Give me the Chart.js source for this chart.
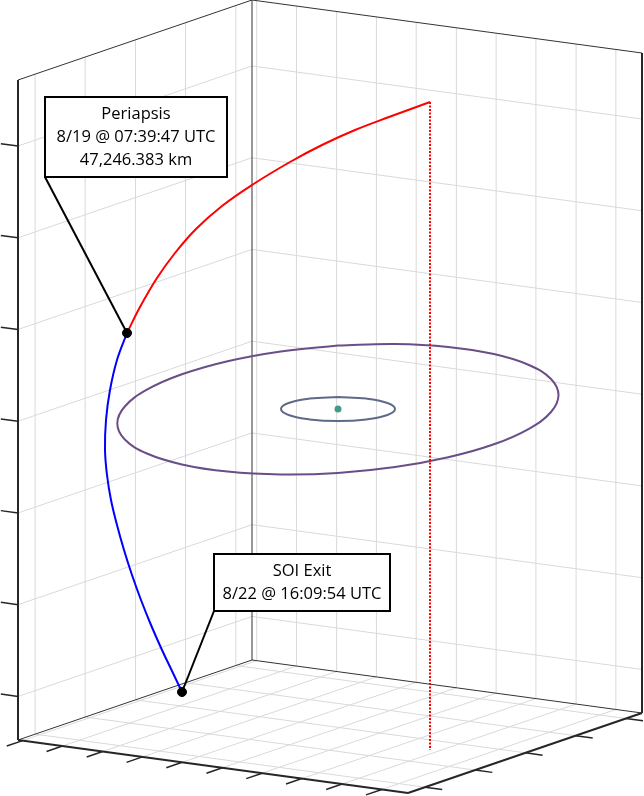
<!DOCTYPE html>
<html>
<head>
<meta charset="utf-8">
<title>SOI trajectory</title>
<script src="https://cdn.jsdelivr.net/npm/chart.js@4.4.1/dist/chart.umd.min.js"></script>
<style>
  html, body { margin: 0; padding: 0; background: #fff; }
  canvas { display: block; }
</style>
</head>
<body>
<canvas id="myChart" width="644" height="796"></canvas>
<script>
// main.js  -  3D box drawn as a projected 2D view (x right, y down)

// tick fractions along the three box directions
var depthTicks = [0.073, 0.287, 0.502, 0.716, 0.931];
var widthTicks = [0.012, 0.114, 0.217, 0.319, 0.421, 0.524, 0.626, 0.728, 0.831, 0.933];
var heightTicks = [0.066, 0.205, 0.344, 0.483, 0.622, 0.761, 0.900];

// trajectory
var approach = [[430, 102], [389, 117], [355, 130], [322, 145], [290, 162], [252, 185],
                [222, 206], [196, 229], [175, 253], [157, 278], [140, 307], [127, 333]];
var departure = [[127, 333], [117, 360], [110, 390], [106, 420], [105, 450], [107, 475],
                 [111, 500], [117, 525], [124, 550], [132, 575], [141, 600], [151, 625],
                 [162, 650], [172, 671], [182, 692]];
var entryDrop = [[430, 102], [430, 750]];
var outerOrbit = [[337.9, 345.5], [395.0, 344.0], [448.2, 346.9], [493.9, 354.1], [528.9, 365.0],
                  [551.0, 379.0], [558.5, 395.0], [551.0, 412.0], [528.9, 428.8], [493.9, 444.3],
                  [448.2, 457.3], [395.0, 467.1], [337.9, 473.0], [280.8, 474.5], [227.6, 471.6],
                  [181.9, 464.4], [146.9, 453.5], [124.8, 439.5], [117.3, 423.5], [124.8, 406.5],
                  [146.9, 389.7], [181.9, 374.3], [227.6, 361.2], [280.8, 351.4], [337.9, 345.5]];
var innerOrbit = [[338, 397], [366.5, 398.6], [387.4, 403], [395, 409], [387.4, 415],
                  [366.5, 419.4], [338, 421], [309.5, 419.4], [288.6, 415], [281, 409],
                  [288.6, 403], [309.5, 398.6], [338, 397]];
var moon = [[338, 409]];
var events = [[127, 333], [182, 692]];
var eventLabels = [
    ['Periapsis', '8/19 @ 07:39:47 UTC', '47,246.383 km'],
    ['SOI Exit', '8/22 @ 16:09:54 UTC']
];

// box projection in view units
var boxOrigin = [18, 740];
var depthDir = [234, -80];
var widthDir = [390, 53];
var heightDir = [0, -660];
// callout boxes: left, top, right, bottom
var calloutBoxes = [[45, 97, 227, 177], [214, 554, 390, 611]];

function proj(a, b, c) {
    return {
        x: boxOrigin[0] + a * depthDir[0] + b * widthDir[0] + c * heightDir[0],
        y: boxOrigin[1] + a * depthDir[1] + b * widthDir[1] + c * heightDir[1]
    };
}
function toPts(arr) {
    return arr.map(function (p) { return { x: p[0], y: p[1] }; });
}
function toSegs(list) {
    var out = [];
    list.forEach(function (s) { out.push(s[0], s[1], { x: null, y: null }); });
    return out;
}

var grid = [];
depthTicks.forEach(function (a) {
    grid.push([proj(a, 0, 0), proj(a, 0, 1)]);
    grid.push([proj(a, 0, 0), proj(a, 1, 0)]);
});
widthTicks.forEach(function (b) {
    grid.push([proj(1, b, 0), proj(1, b, 1)]);
    grid.push([proj(0, b, 0), proj(1, b, 0)]);
});
heightTicks.forEach(function (c) {
    grid.push([proj(0, 0, c), proj(1, 0, c)]);
    grid.push([proj(1, 0, c), proj(1, 1, c)]);
});

var tickMarks = [];
heightTicks.forEach(function (c) { tickMarks.push([proj(0, 0, c), proj(0, -0.044, c)]); });
widthTicks.forEach(function (b) { tickMarks.push([proj(0, b, 0), proj(-0.068, b, 0)]); });
depthTicks.forEach(function (a) { tickMarks.push([proj(a, 1, 0), proj(a, 1.044, 0)]); });

var thinEdges = [
    [proj(0, 0, 1), proj(1, 0, 1)],
    [proj(1, 0, 1), proj(1, 1, 1)],
    [proj(1, 0, 0), proj(1, 0, 1)],
    [proj(0, 0, 0), proj(1, 0, 0)],
    [proj(1, 0, 0), proj(1, 1, 0)]
];
var thickEdges = [
    [proj(0, 0, 0), proj(0, 0, 1)],
    [proj(0, 0, 0), proj(0, 1, 0)],
    [proj(0, 1, 0), proj(1, 1, 0)],
    [proj(1, 1, 0), proj(1, 1, 1)]
];

function lineSet(data, color, width, extra) {
    var ds = {
        data: data, showLine: true, borderColor: color, borderWidth: width,
        pointRadius: 0, fill: false, tension: 0
    };
    for (var k in extra) ds[k] = extra[k];
    return ds;
}

var callouts = {
    id: 'callouts',
    beforeDatasetDraw: function (chart, args) {
        if (args.index !== 0) return;
        var ctx = chart.ctx, xs = chart.scales.x, ys = chart.scales.y;
        ctx.save();
        ctx.strokeStyle = '#000';
        ctx.lineWidth = 2;
        calloutBoxes.forEach(function (b, i) {
            ctx.beginPath();
            ctx.moveTo(xs.getPixelForValue(b[0]), ys.getPixelForValue(b[3]));
            ctx.lineTo(xs.getPixelForValue(events[i][0]), ys.getPixelForValue(events[i][1]));
            ctx.stroke();
        });
        ctx.restore();
    },
    afterDatasetsDraw: function (chart) {
        var ctx = chart.ctx, xs = chart.scales.x, ys = chart.scales.y;
        ctx.save();
        calloutBoxes.forEach(function (b, i) {
            var l = xs.getPixelForValue(b[0]), t = ys.getPixelForValue(b[1]);
            var r = xs.getPixelForValue(b[2]), btm = ys.getPixelForValue(b[3]);
            ctx.fillStyle = '#fff';
            ctx.fillRect(l, t, r - l, btm - t);
            ctx.strokeStyle = '#000';
            ctx.lineWidth = 2;
            ctx.strokeRect(l, t, r - l, btm - t);
            ctx.fillStyle = '#000';
            ctx.font = '16.5px "Open Sans"';
            ctx.textAlign = 'center';
            ctx.textBaseline = 'alphabetic';
            eventLabels[i].forEach(function (txt, j) {
                ctx.fillText(txt, (l + r) / 2, ys.getPixelForValue(b[1] + 22.3 + j * 22.7));
            });
        });
        ctx.restore();
    }
};

var ctx = document.getElementById('myChart').getContext('2d');
var myChart = new Chart(ctx, {
    type: 'scatter',
    data: {
        datasets: [
            { data: toPts(events), pointRadius: 4.5, backgroundColor: '#000', borderColor: '#000', showLine: false },
            { data: toPts(moon), pointRadius: 3.5, backgroundColor: '#3f9b8c', borderColor: '#3f9b8c', borderWidth: 0, showLine: false },
            lineSet(toPts(entryDrop), '#ff0000', 2, { borderDash: [2, 1.5] }),
            lineSet(toPts(approach), '#ff0000', 2, { tension: 0.4 }),
            lineSet(toPts(departure), '#0000ff', 2, { tension: 0.4 }),
            lineSet(toPts(innerOrbit), '#5f6a8a', 2, { tension: 0.4 }),
            lineSet(toPts(outerOrbit), '#6a4e88', 2, { tension: 0.4 }),
            lineSet(toSegs(thickEdges), '#262626', 2),
            lineSet(toSegs(tickMarks), '#262626', 1.5),
            lineSet(toSegs(thinEdges), '#333333', 1),
            lineSet(toSegs(grid), '#d9d9d9', 1)
        ]
    },
    options: {
        responsive: false,
        animation: false,
        events: [],
        layout: { padding: 0, autoPadding: false },
        plugins: { legend: { display: false }, tooltip: { enabled: false } },
        scales: {
            x: { type: 'linear', min: 0, max: 644, display: false },
            y: { type: 'linear', min: 0, max: 796, reverse: true, display: false }
        }
    },
    plugins: [callouts]
});
</script>
</body>
</html>
